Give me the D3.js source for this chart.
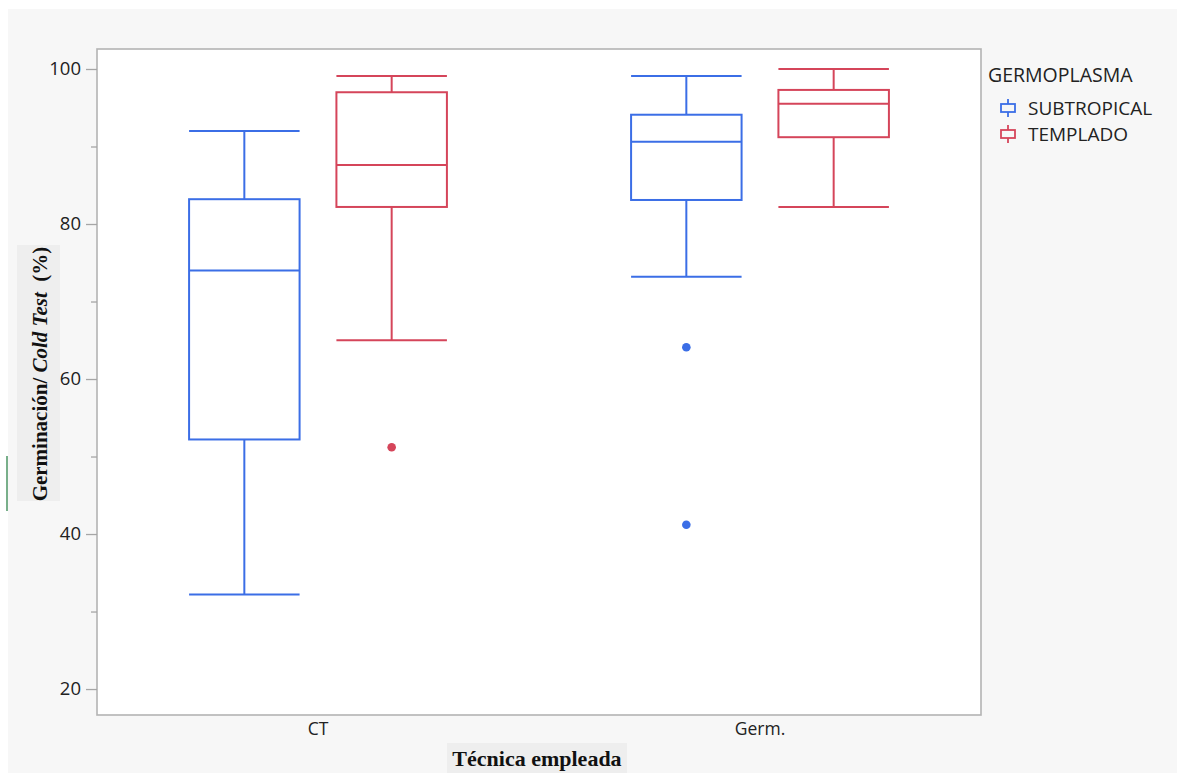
<!DOCTYPE html>
<html>
<head>
<meta charset="utf-8">
<script src="https://cdn.jsdelivr.net/npm/d3@7"></script>
<style>
  body { margin: 0; background: #fff; }
  svg { display: block; }
  .tick text { font-family: "Open Sans", sans-serif; fill: #222; }
</style>
</head>
<body>
<div id="container"></div>
<script>
// data
var categories = ["CT", "Germ."];
var groups = ["SUBTROPICAL", "TEMPLADO"];
var groupColors = ["#3b6ee6", "#d5455a"];
var yTicks = [20, 40, 60, 80, 100];
var yMinor = [30, 50, 70, 90];

// one entry per category x group: [lowWhisker, q1, median, q3, highWhisker]
var statsSub = [[32.2, 52.2, 74.0, 83.2, 92.0], [73.2, 83.1, 90.6, 94.1, 99.1]];
var statsTem = [[65.0, 82.2, 87.6, 97.0, 99.1], [82.2, 91.2, 95.5, 97.3, 100.0]];
var outSub = [[], [64.1, 41.2]];
var outTem = [[51.2], []];

var width = 1177, height = 773;

var svg = d3.select("#container").append("svg")
    .attr("width", width)
    .attr("height", height);

// grey page with white margin top/left
svg.append("rect")
    .attr("x", 8).attr("y", 9)
    .attr("width", width - 8).attr("height", height - 9)
    .attr("fill", "#f7f7f7");

// little green artifact on left edge
svg.append("line")
    .attr("x1", 7).attr("x2", 7)
    .attr("y1", 456).attr("y2", 511)
    .attr("stroke", "#1e7a3c").attr("stroke-width", 1.2);

var plot = { left: 97, right: 981, top: 49, bottom: 715 };

var y = d3.scaleLinear()
    .domain([16.65, 102.58])
    .range([plot.bottom, plot.top]);

var x = d3.scaleBand()
    .domain(categories)
    .range([plot.left, plot.right])
    .padding(0);

var xSub = d3.scalePoint()
    .domain(groups)
    .range([0, x.bandwidth()])
    .padding(1);

var boxW = x.bandwidth() / 4;

svg.append("rect")
    .attr("x", plot.left).attr("y", plot.top)
    .attr("width", plot.right - plot.left)
    .attr("height", plot.bottom - plot.top)
    .attr("fill", "#fff")
    .attr("stroke", "#b3b3b3")
    .attr("stroke-width", 1.6);

// y axis
var yAxis = svg.append("g")
    .attr("class", "y axis")
    .attr("transform", "translate(" + plot.left + ",0)")
    .call(d3.axisLeft(y).tickValues(yTicks).tickSize(11).tickPadding(5));
yAxis.select(".domain").remove();
yAxis.selectAll(".tick line").attr("stroke", "#a6a6a6").attr("stroke-width", 1.3);
yAxis.selectAll(".tick text").style("font-size", "18.5px");

var yAxisMinor = svg.append("g")
    .attr("transform", "translate(" + plot.left + ",0)")
    .call(d3.axisLeft(y).tickValues(yMinor).tickSize(6).tickFormat(""));
yAxisMinor.select(".domain").remove();
yAxisMinor.selectAll(".tick line").attr("stroke", "#a6a6a6").attr("stroke-width", 1.3);

// x axis labels
var xAxis = svg.append("g")
    .attr("class", "x axis")
    .attr("transform", "translate(0," + plot.bottom + ")")
    .call(d3.axisBottom(x).tickSize(0).tickPadding(8));
xAxis.select(".domain").remove();
xAxis.selectAll(".tick text").style("font-size", "17.5px");

// build box table
var boxes = [];
categories.forEach(function(c, i) {
    boxes.push({ cat: c, grp: groups[0], s: statsSub[i], out: outSub[i], color: groupColors[0] });
    boxes.push({ cat: c, grp: groups[1], s: statsTem[i], out: outTem[i], color: groupColors[1] });
});

var box = svg.append("g").attr("class", "boxes")
    .selectAll(".box")
    .data(boxes)
    .enter().append("g")
    .attr("class", "box")
    .attr("transform", function(d) { return "translate(" + (x(d.cat) + xSub(d.grp)) + ",0)"; });

box.each(function(d) {
    var g = d3.select(this);
    var s = d.s;
    var lw = 2;
    // whiskers
    g.append("line").attr("x1", 0).attr("x2", 0)
        .attr("y1", y(s[0])).attr("y2", y(s[1]))
        .attr("stroke", d.color).attr("stroke-width", lw);
    g.append("line").attr("x1", 0).attr("x2", 0)
        .attr("y1", y(s[3])).attr("y2", y(s[4]))
        .attr("stroke", d.color).attr("stroke-width", lw);
    // caps
    [s[0], s[4]].forEach(function(v) {
        g.append("line")
            .attr("x1", -boxW / 2).attr("x2", boxW / 2)
            .attr("y1", y(v)).attr("y2", y(v))
            .attr("stroke", d.color).attr("stroke-width", lw);
    });
    // box
    g.append("rect")
        .attr("x", -boxW / 2).attr("width", boxW)
        .attr("y", y(s[3])).attr("height", y(s[1]) - y(s[3]))
        .attr("fill", "none")
        .attr("stroke", d.color).attr("stroke-width", lw);
    // median
    g.append("line")
        .attr("x1", -boxW / 2).attr("x2", boxW / 2)
        .attr("y1", y(s[2])).attr("y2", y(s[2]))
        .attr("stroke", d.color).attr("stroke-width", lw);
    // outliers
    g.selectAll("circle")
        .data(d.out)
        .enter().append("circle")
        .attr("cx", 0).attr("cy", function(v) { return y(v); })
        .attr("r", 4.3)
        .attr("fill", d.color);
});

// y title with grey backing
var yTitleX = 39, yTitleY = 374;
svg.append("rect")
    .attr("x", 17).attr("y", 245)
    .attr("width", 43).attr("height", 256)
    .attr("fill", "#eeeeee");
var yTitle = svg.append("text")
    .attr("transform", "translate(" + (yTitleX + 8) + "," + yTitleY + ") rotate(-90)")
    .attr("text-anchor", "middle")
    .style("font-family", "'Liberation Serif', 'Times New Roman', serif")
    .style("font-weight", "bold")
    .style("font-size", "21px")
    .attr("fill", "#111");
yTitle.append("tspan").text("Germinación/ ");
yTitle.append("tspan").style("font-style", "italic").text("Cold Test");
yTitle.append("tspan").attr("xml:space", "preserve").text("  (%)");

// x title with grey backing
svg.append("rect")
    .attr("x", 447).attr("y", 743)
    .attr("width", 180).attr("height", 30)
    .attr("fill", "#eeeeee");
svg.append("text")
    .attr("x", 537).attr("y", 766)
    .attr("text-anchor", "middle")
    .style("font-family", "'Liberation Serif', 'Times New Roman', serif")
    .style("font-weight", "bold")
    .style("font-size", "22px")
    .attr("fill", "#111")
    .text("Técnica empleada");

// legend
var legend = svg.append("g").attr("class", "legend");
legend.append("text")
    .attr("x", 988).attr("y", 82)
    .style("font-family", "'Open Sans', sans-serif")
    .style("font-size", "19.5px")
    .attr("fill", "#222")
    .text("GERMOPLASMA");

var item = legend.selectAll(".item")
    .data(groups)
    .enter().append("g")
    .attr("class", "item")
    .attr("transform", function(d, i) { return "translate(0," + (108 + i * 26) + ")"; });

item.append("line")
    .attr("x1", 1008).attr("x2", 1008)
    .attr("y1", -9).attr("y2", 9)
    .attr("stroke", function(d, i) { return groupColors[i]; })
    .attr("stroke-width", 1.8);
item.append("rect")
    .attr("x", 1001).attr("y", -4)
    .attr("width", 14).attr("height", 8)
    .attr("fill", "#f7f7f7")
    .attr("stroke", function(d, i) { return groupColors[i]; })
    .attr("stroke-width", 1.8);
item.append("text")
    .attr("x", 1028).attr("y", 7)
    .style("font-family", "'Open Sans', sans-serif")
    .style("font-size", "19px")
    .attr("fill", "#222")
    .text(function(d) { return d; });
</script>
</body>
</html>
